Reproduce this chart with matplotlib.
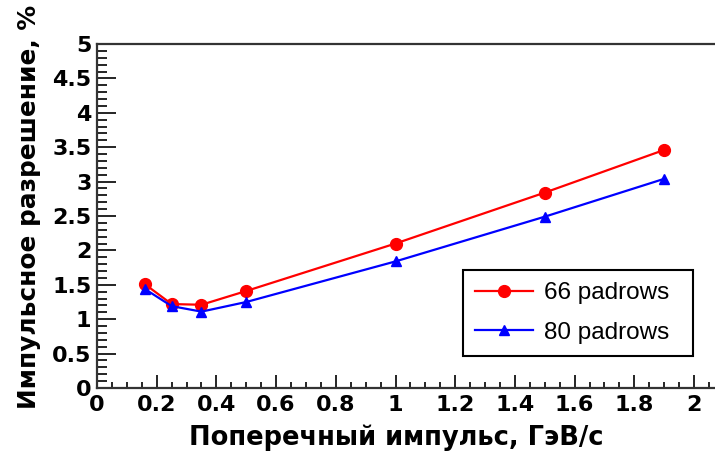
import numpy as np
import matplotlib
matplotlib.use('Agg')
import matplotlib.pyplot as plt
from matplotlib.ticker import MultipleLocator

# transverse momentum points, GeV/c
pt = [0.16, 0.25, 0.35, 0.5, 1.0, 1.5, 1.9]
# momentum resolution, %
res_66 = [1.51, 1.22, 1.21, 1.41, 2.10, 2.84, 3.46]
res_80 = [1.44, 1.19, 1.11, 1.25, 1.84, 2.49, 3.04]

x_ticks = [0, 0.2, 0.4, 0.6, 0.8, 1, 1.2, 1.4, 1.6, 1.8, 2]
y_ticks = [0, 0.5, 1, 1.5, 2, 2.5, 3, 3.5, 4, 4.5, 5]

fig = plt.figure(figsize=(7.15, 4.55), dpi=100)
ax = fig.add_axes([97/715, 67/455, 618/715, 344/455])

ax.plot(pt, res_66, color='red', lw=1.6, marker='o', ms=8.5, label='66 padrows')
ax.plot(pt, res_80, color='blue', lw=1.6, marker='^', ms=7.5, label='80 padrows')

ax.set_xlim(0, 618/298.5)
ax.set_ylim(0, 5)

ax.set_xticks(x_ticks)
ax.set_yticks(y_ticks)
ax.set_xticklabels(['%g' % v for v in x_ticks])
ax.set_yticklabels(['%g' % v for v in y_ticks])
ax.xaxis.set_minor_locator(MultipleLocator(0.05))
ax.yaxis.set_minor_locator(MultipleLocator(0.1))

for lab in ax.get_xticklabels() + ax.get_yticklabels():
    lab.set_family('DejaVu Sans')
    lab.set_weight('bold')
    lab.set_size(16)

ax.tick_params(axis='y', which='major', direction='in', length=13.5, width=1.2, pad=4)
ax.tick_params(axis='y', which='minor', direction='in', length=7, width=1.2)
ax.tick_params(axis='x', which='major', direction='in', length=9.5, width=1.2, pad=5)
ax.tick_params(axis='x', which='minor', direction='in', length=4.5, width=1.2)

for side in ['left', 'bottom', 'top']:
    ax.spines[side].set_linewidth(1.6)
    ax.spines[side].set_color('#333333')
ax.spines['right'].set_visible(False)

ax.set_xlabel('Поперечный импульс, ГэВ/с', fontsize=18.5, fontweight='bold',
              family='DejaVu Sans', labelpad=7)
ax.set_ylabel('Импульсное разрешение, %', fontsize=17.8, fontweight='bold',
              family='DejaVu Sans', labelpad=8)
ax.xaxis.label.set_x(0.485)
ax.yaxis.label.set_y(0.526)

leg = ax.legend(loc='upper left', bbox_to_anchor=(0.592, 0.105, 0.372, 0.238),
                mode='expand', fancybox=False,
                edgecolor='black', framealpha=1, handlelength=2.4, labelspacing=0.72,
                borderpad=0.5, handletextpad=0.45, borderaxespad=0,
                prop=dict(family='Liberation Sans', size=17.5))
leg.get_frame().set_linewidth(1.5)

fig.savefig('out.png', dpi=100)
